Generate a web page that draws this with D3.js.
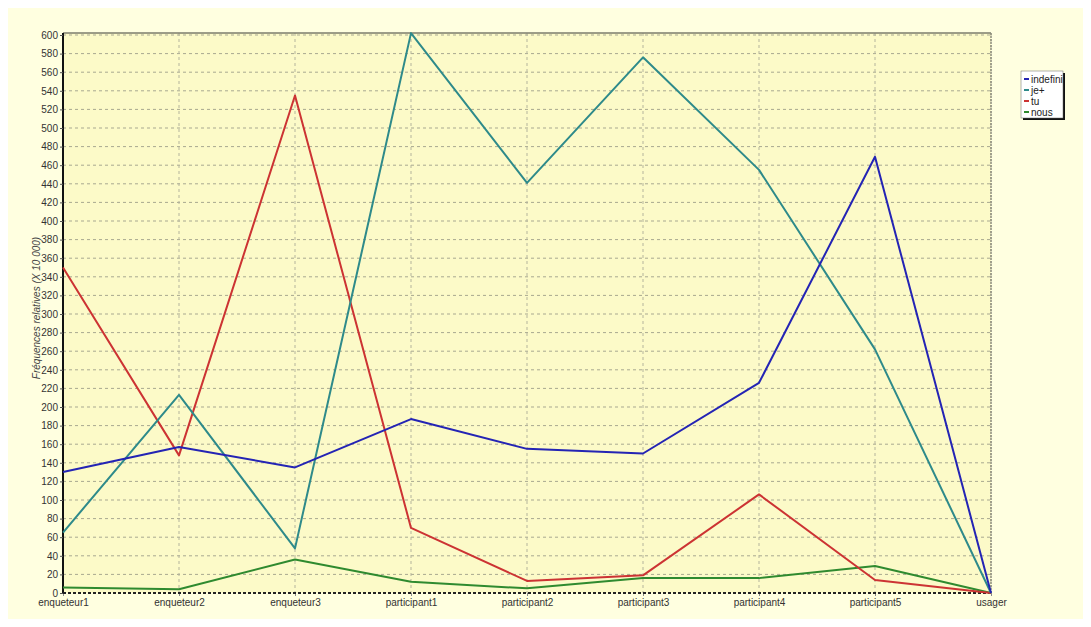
<!DOCTYPE html>
<html>
<head>
<meta charset="utf-8">
<script src="https://cdn.jsdelivr.net/npm/d3@7"></script>
<style>
  body { margin: 0; background: #fff; }
  svg { display: block; }
  .tick text { font-family: Arial, "Liberation Sans", sans-serif; font-size: 10px; fill: #333; }
</style>
</head>
<body>
<svg id="chart"></svg>
<script>
// categories and series
const categories = ['enqueteur1', 'enqueteur2', 'enqueteur3', 'participant1', 'participant2',
                    'participant3', 'participant4', 'participant5', 'usager']

const indefini = [130, 157, 135, 187, 155, 150, 226, 469, 0]
const jePlus   = [65, 213, 48, 602, 441, 576, 455, 262, 0]
const tu       = [350, 148, 535, 70, 13, 19, 106, 14, 0]
const nous     = [6, 4, 36, 12, 5, 16, 16, 29, 0]

const yTicks = d3.range(0, 601, 20)

const series = [
    { name: 'indefini', values: indefini, color: '#2424b4' },
    { name: 'je+',      values: jePlus,   color: '#2e8a8a' },
    { name: 'tu',       values: tu,       color: '#cc3333' },
    { name: 'nous',     values: nous,     color: '#2f8a2f' }
]

const width = 1091
const height = 627

const svg = d3.select('#chart')
    .attr('width', width)
    .attr('height', height)

// chart background
svg.append('rect')
    .attr('x', 8).attr('y', 8)
    .attr('width', width - 16).attr('height', height - 16)
    .attr('fill', '#ffffe0')

const pLeft = 63, pRight = 991, pTop = 33, pBottom = 593

const x = d3.scalePoint()
    .domain(categories)
    .range([pLeft, pRight])

const y = d3.scaleLinear()
    .domain([0, 600])
    .range([pBottom, 35])

// plot area
svg.append('rect')
    .attr('x', pLeft).attr('y', pTop)
    .attr('width', pRight - pLeft).attr('height', pBottom - pTop)
    .attr('fill', '#fcfac8')

// grid
svg.append('g')
    .selectAll('line')
    .data(yTicks.filter(d => d > 0))
    .enter()
    .append('line')
    .attr('x1', pLeft).attr('x2', pRight)
    .attr('y1', d => y(d)).attr('y2', d => y(d))
    .attr('stroke', '#a8a890')
    .attr('stroke-dasharray', '3,3')

svg.append('g')
    .selectAll('line')
    .data(categories.slice(1))
    .enter()
    .append('line')
    .attr('x1', d => x(d)).attr('x2', d => x(d))
    .attr('y1', pTop).attr('y2', pBottom)
    .attr('stroke', '#b4b49c')
    .attr('stroke-dasharray', '3,3')

// frame top / right
svg.append('line')
    .attr('x1', pLeft).attr('x2', pRight)
    .attr('y1', pTop).attr('y2', pTop)
    .attr('stroke', '#7c7c6c').attr('stroke-width', 1.5)

svg.append('line')
    .attr('x1', pRight).attr('x2', pRight)
    .attr('y1', pTop).attr('y2', pBottom)
    .attr('stroke', '#8c8c7c').attr('stroke-width', 1.5)
    .attr('stroke-dasharray', '2,1')

// axes
const yAxis = svg.append('g')
    .attr('transform', `translate(${pLeft},0)`)
    .call(d3.axisLeft(y).tickValues(yTicks).tickSize(3).tickPadding(2))

yAxis.select('.domain')
    .attr('d', `M0,${pTop}V${pBottom}`)
    .attr('stroke', '#111').attr('stroke-width', 2)
yAxis.selectAll('.tick line').attr('stroke', '#555')

const xAxis = svg.append('g')
    .attr('transform', `translate(0,${pBottom})`)
    .call(d3.axisBottom(x).tickSize(3).tickPadding(3))

xAxis.select('.domain').remove()
xAxis.append('line')
    .attr('x1', pLeft).attr('x2', pRight)
    .attr('stroke', '#222').attr('stroke-width', 2)
    .attr('stroke-dasharray', '3,2')
xAxis.selectAll('.tick line').attr('stroke', '#888')

// axis title
svg.append('text')
    .attr('transform', `translate(40,${(pTop + pBottom) / 2 - 5}) rotate(-90)`)
    .attr('text-anchor', 'middle')
    .attr('font-family', 'Arial, "Liberation Sans", sans-serif')
    .attr('font-size', 10)
    .attr('font-style', 'italic')
    .attr('fill', '#444')
    .text('Fréquences relatives (X 10 000)')

// lines
const line = d3.line()
    .x((d, i) => x(categories[i]))
    .y(d => y(d))

svg.append('g')
    .selectAll('path')
    .data(series.slice().reverse())
    .enter()
    .append('path')
    .attr('d', d => line(d.values))
    .attr('fill', 'none')
    .attr('stroke', d => d.color)
    .attr('stroke-width', 2)
    .attr('stroke-linejoin', 'round')

// legend
const lg = svg.append('g').attr('transform', 'translate(1021,71)')

lg.append('rect')
    .attr('x', 2).attr('y', 2)
    .attr('width', 42).attr('height', 47)
    .attr('fill', '#111')

lg.append('rect')
    .attr('width', 42).attr('height', 47)
    .attr('fill', '#fff')
    .attr('stroke', '#666').attr('stroke-width', 0.5)

const items = lg.selectAll('g.item')
    .data(series)
    .enter()
    .append('g')
    .attr('transform', (d, i) => `translate(3,${8 + i * 11})`)

items.append('line')
    .attr('x1', 0).attr('x2', 5)
    .attr('stroke', d => d.color).attr('stroke-width', 2)

items.append('text')
    .attr('x', 7).attr('dy', '0.35em')
    .attr('font-family', 'Arial, "Liberation Sans", sans-serif')
    .attr('font-size', 10)
    .attr('fill', '#222')
    .text(d => d.name)
</script>
</body>
</html>
